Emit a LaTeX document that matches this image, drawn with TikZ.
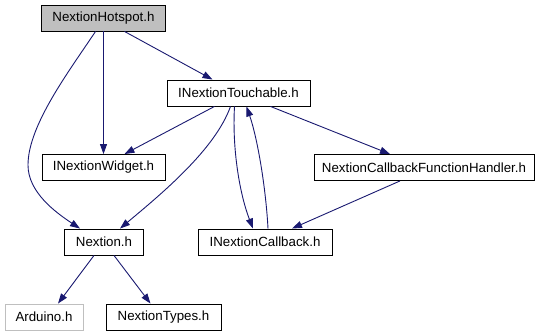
\documentclass[tikz,border=0pt]{standalone}
\usepackage{fontspec}
\setmainfont{Liberation Sans}
\usetikzlibrary{arrows.meta}

\definecolor{edgeblue}{RGB}{25,25,112}
\definecolor{hotgray}{RGB}{191,191,191}

\tikzset{
  file/.style={draw=black, fill=white, line width=0.9pt, rectangle,
    minimum height=26pt, inner sep=0pt, font=\fontsize{13.3}{16}\selectfont},
  dep/.style={draw=edgeblue, line width=0.9pt,
    -{Triangle[length=10pt,width=7pt,fill=edgeblue]}}
}

\begin{document}
\begin{tikzpicture}[x=1pt, y=-1pt]
  \useasboundingbox (0,0) rectangle (544,336);

  % header files
  \node[file, fill=hotgray, minimum width=124pt] (hotspot) at (103.5,18) {NextionHotspot.h};
  \node[file, minimum width=143pt] (touchable) at (238.5,93) {INextionTouchable.h};
  \node[file, minimum width=123pt] (widget) at (103.5,167.5) {INextionWidget.h};
  \node[file, minimum width=220pt] (handler) at (424,167.5) {NextionCallbackFunctionHandler.h};
  \node[file, minimum width=79pt] (nextion) at (104,242) {Nextion.h};
  \node[file, minimum width=134pt] (callback) at (265,242) {INextionCallback.h};
  \node[file, draw=hotgray, minimum width=78pt] (arduino) at (44,317) {Arduino.h};
  \node[file, minimum width=115pt] (types) at (163.5,317) {NextionTypes.h};

  % includes
  \draw[dep] ([xshift=21pt]hotspot.south) -- ([xshift=-26pt]touchable.north);
  \draw[dep] (hotspot.south) -- (widget.north);
  \draw[dep] ([xshift=-8pt]hotspot.south) .. controls (70,70) and (28,125)
    .. (28,165) .. controls (28,192) and (55,212) .. ([xshift=-24pt]nextion.north);
  \draw[dep] ([xshift=-24pt]touchable.south) -- ([xshift=21pt]widget.north);
  \draw[dep] ([xshift=-8pt]touchable.south) .. controls (215,150) and (160,195)
    .. ([xshift=16pt]nextion.north);
  \draw[dep] ([xshift=-4pt]touchable.south) .. controls (232,150) and (240,195)
    .. ([xshift=-12pt]callback.north);
  \draw[dep] ([xshift=3pt]callback.north) .. controls (266,190) and (258,140)
    .. ([xshift=8pt]touchable.south);
  \draw[dep] ([xshift=32pt]touchable.south) -- ([xshift=-34pt]handler.north);
  \draw[dep] ([xshift=-24pt]handler.south) -- ([xshift=27pt]callback.north);
  \draw[dep] ([xshift=-10pt]nextion.south) -- ([xshift=14pt]arduino.north);
  \draw[dep] ([xshift=10pt]nextion.south) -- ([xshift=-13pt]types.north);
\end{tikzpicture}
\end{document}
